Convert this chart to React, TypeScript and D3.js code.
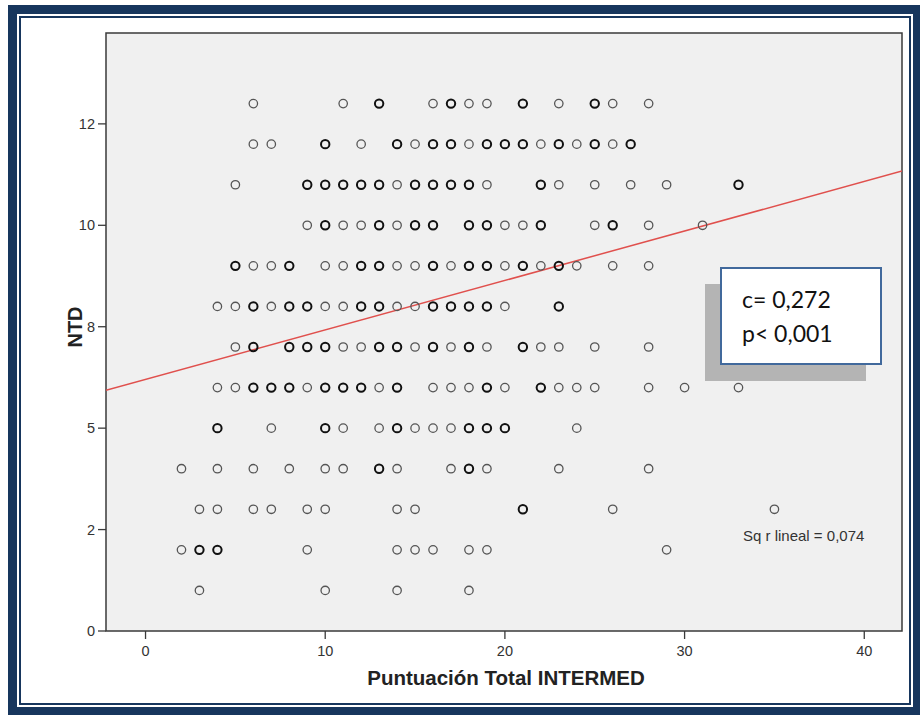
import React from "react";
import * as d3 from "d3";

// NTD level (y) for each row of observations, and the INTERMED total scores (x) observed at that level.
// Repeated scores are overlapping observations.
const ntdLevels = [1, 2, 3, 4, 5, 6, 7, 8, 9, 10, 11, 12, 13];
const ntd1 = [3, 10, 14, 18];
const ntd2 = [2, 3, 3, 4, 4, 9, 14, 15, 16, 18, 19, 29];
const ntd3 = [3, 4, 6, 7, 9, 10, 14, 15, 21, 21, 26, 35];
const ntd4 = [2, 4, 6, 8, 10, 11, 13, 13, 14, 17, 18, 18, 19, 23, 28];
const ntd5 = [4, 4, 7, 10, 10, 11, 13, 14, 14, 15, 16, 17, 18, 18, 19, 19, 20, 20, 24];
const ntd6 = [4, 5, 6, 6, 7, 7, 8, 8, 9, 10, 10, 11, 11, 12, 12, 13, 14, 14, 16, 17, 18, 19, 19, 20, 22, 22, 23, 24, 25, 28, 30, 33];
const ntd7 = [5, 6, 6, 8, 8, 9, 9, 10, 10, 11, 12, 13, 13, 14, 14, 15, 16, 16, 17, 18, 18, 19, 21, 21, 22, 23, 25, 28];
const ntd8 = [4, 5, 6, 6, 7, 8, 8, 9, 9, 10, 11, 12, 12, 13, 13, 14, 15, 16, 16, 17, 17, 18, 18, 19, 19, 20, 23, 23];
const ntd9 = [5, 5, 6, 7, 8, 8, 10, 11, 12, 12, 13, 13, 14, 15, 16, 16, 17, 18, 18, 19, 19, 20, 21, 21, 22, 23, 23, 24, 26, 28];
const ntd10 = [9, 10, 10, 11, 12, 13, 13, 14, 15, 15, 16, 16, 18, 18, 19, 19, 20, 21, 22, 22, 25, 26, 26, 28, 31];
const ntd11 = [5, 9, 9, 10, 10, 11, 11, 12, 12, 13, 13, 14, 15, 15, 16, 16, 17, 17, 18, 18, 19, 22, 22, 23, 25, 27, 29, 33, 33];
const ntd12 = [6, 7, 10, 10, 12, 14, 14, 15, 16, 16, 17, 17, 18, 19, 19, 20, 20, 21, 21, 22, 23, 23, 24, 25, 25, 26, 27, 27];
const ntd13 = [6, 11, 13, 13, 16, 17, 17, 18, 19, 21, 21, 23, 25, 25, 26, 28];
const scoreRows = [ntd1, ntd2, ntd3, ntd4, ntd5, ntd6, ntd7, ntd8, ntd9, ntd10, ntd11, ntd12, ntd13];

// Axes
const xTicks = [0, 10, 20, 30, 40];
const yTicks = [0, 2.5, 5, 7.5, 10, 12.5];
const yTickLabels = ["0", "2", "5", "8", "10", "12"];
const xTitle = "Puntuación Total INTERMED";
const yTitle = "NTD";

// Linear fit and statistics
const fitIntercept = 6.2;
const fitSlope = 0.122;
const rSquaredLabel = "Sq r lineal = 0,074";
const statLines = ["c= 0,272", "p< 0,001"];

const W = 920;
const H = 715;
const NAVY = "#17365d";
const plot = { left: 106, right: 902, top: 33, bottom: 631 };
const axisFont = "'Liberation Sans', Arial, sans-serif";

export default function App() {
  const x = d3.scaleLinear().domain([-2.2, 42.1]).range([plot.left, plot.right]);
  const y = d3.scaleLinear().domain([0, 14.74]).range([plot.bottom, plot.top]);

  // Count overlapping observations so stacked points are drawn heavier
  const points: { sx: number; ny: number; n: number }[] = [];
  scoreRows.forEach((row, i) => {
    const counts = d3.rollup(row, (v) => v.length, (d) => d);
    counts.forEach((n, sx) => points.push({ sx, ny: ntdLevels[i], n }));
  });

  const fit = d3
    .line<number>()
    .x((d) => x(d))
    .y((d) => y(fitIntercept + fitSlope * d));
  const xDomain = x.domain();

  return (
    <svg width={W} height={H} style={{ position: "absolute", left: 0, top: 0, background: "#fff" }}>
      {/* page frame */}
      <rect x={8} y={5} width={W - 8} height={H - 5} fill={NAVY} />
      <rect x={17} y={14} width={896} height={693} fill="#fff" />
      <rect x={20} y={17} width={890} height={687} fill="none" stroke={NAVY} strokeWidth={2} />

      <defs>
        <clipPath id="plotClip">
          <rect x={plot.left} y={plot.top} width={plot.right - plot.left} height={plot.bottom - plot.top} />
        </clipPath>
      </defs>

      {/* plot area */}
      <rect
        x={plot.left}
        y={plot.top}
        width={plot.right - plot.left}
        height={plot.bottom - plot.top}
        fill="#f0f0f0"
        stroke="#3a3a3a"
        strokeWidth={1.5}
      />

      {/* fit line */}
      <path
        d={fit(xDomain) || ""}
        fill="none"
        stroke="#e0504d"
        strokeWidth={1.5}
        clipPath="url(#plotClip)"
      />

      {/* observations */}
      {points.map((p, i) => (
        <circle
          key={i}
          cx={x(p.sx)}
          cy={y(p.ny)}
          r={4.2}
          fill="none"
          stroke={p.n > 1 ? "#111" : "#555"}
          strokeWidth={p.n > 1 ? 2 : 1.3}
        />
      ))}

      {/* x axis */}
      {xTicks.map((t) => (
        <g key={t} transform={`translate(${x(t)},${plot.bottom})`}>
          <line y1={0} y2={8} stroke="#3a3a3a" strokeWidth={1.3} />
          <text y={25} textAnchor="middle" fontFamily={axisFont} fontSize={14.5} fill="#333">
            {t}
          </text>
        </g>
      ))}
      <text
        x={506}
        y={685}
        textAnchor="middle"
        fontFamily={axisFont}
        fontSize={20.5}
        fontWeight="bold"
        fill="#222"
      >
        {xTitle}
      </text>

      {/* y axis */}
      {yTicks.map((t, i) => (
        <g key={t} transform={`translate(${plot.left},${y(t)})`}>
          <line x1={-8} x2={0} stroke="#3a3a3a" strokeWidth={1.3} />
          <text x={-11} y={5} textAnchor="end" fontFamily={axisFont} fontSize={14.5} fill="#333">
            {yTickLabels[i]}
          </text>
        </g>
      ))}
      <text
        transform="translate(82,327) rotate(-90)"
        textAnchor="middle"
        fontFamily={axisFont}
        fontSize={20}
        fontWeight="bold"
        fill="#222"
      >
        {yTitle}
      </text>

      {/* fit statistic */}
      <text x={743} y={541} fontFamily={axisFont} fontSize={15} fill="#333">
        {rSquaredLabel}
      </text>

      {/* correlation box */}
      <rect x={705} y={284} width={161} height={97} fill="#b4b4b4" />
      <rect x={721} y={268} width={160} height={96} fill="#fff" stroke="#41699c" strokeWidth={2} />
      {statLines.map((s, i) => (
        <text key={i} x={742} y={308 + i * 34} fontFamily="Lato, 'Open Sans', sans-serif" fontSize={23} fill="#111">
          {s}
        </text>
      ))}
    </svg>
  );
}
